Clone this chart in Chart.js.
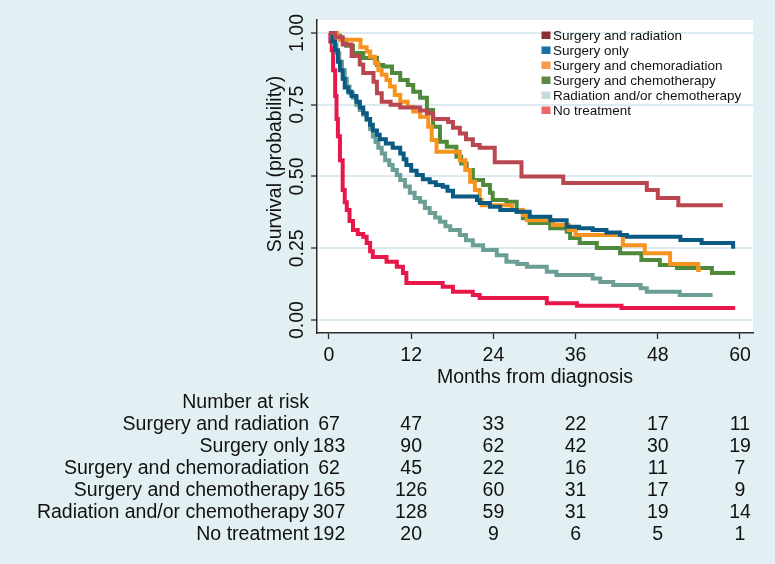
<!DOCTYPE html>
<html><head><meta charset="utf-8">
<script src="https://cdn.jsdelivr.net/npm/chart.js@4.4.1/dist/chart.umd.min.js"></script>
<style>html,body{margin:0;padding:0;background:#e3f0f3;}canvas{display:block;}</style>
</head><body>
<canvas id="c" width="775" height="564"></canvas>
<script>
const groupLabels = ['Surgery and radiation','Surgery only','Surgery and chemoradiation','Surgery and chemotherapy','Radiation and/or chemotherapy','No treatment'];
const lineColors = ['#b9474f','#0b5a84','#f7941e','#4f8a3c','#6b9f96','#e8174a'];
const legendColors = ['#8c2d33','#1a70a5','#f89a4a','#5a8a44','#c8dce0','#f06565'];

// [months, survival probability]
const surgeryRadiation = [[0,1],[0.9,0.985],[2,0.96],[3.3,0.92],[4.5,0.89],[5,0.86],[6.5,0.83],[7,0.79],[7.7,0.76],[9,0.75],[10.4,0.74],[13.3,0.73],[14.3,0.72],[15.2,0.70],[17.4,0.69],[18.1,0.67],[19.1,0.65],[20,0.63],[21,0.61],[22,0.60],[24.2,0.55],[28.1,0.50],[34.2,0.477],[46.4,0.453],[48,0.425],[51,0.40],[57.5,0.40]];
const surgeryOnly = [[0,1],[0.5,0.97],[0.9,0.94],[1.3,0.90],[1.6,0.87],[2.0,0.84],[2.3,0.81],[2.8,0.795],[3.3,0.78],[4.0,0.76],[4.5,0.74],[5.0,0.72],[5.5,0.70],[6.0,0.68],[6.4,0.66],[7.0,0.645],[7.4,0.63],[8.3,0.615],[9.3,0.60],[10.4,0.58],[10.9,0.56],[11.3,0.54],[12.0,0.52],[12.8,0.505],[13.7,0.49],[14.7,0.48],[15.6,0.47],[16.6,0.464],[17.3,0.45],[18.1,0.43],[21.6,0.418],[22,0.408],[23.5,0.395],[25,0.383],[27.4,0.377],[29.3,0.36],[32.3,0.348],[34.7,0.325],[36.5,0.32],[38.5,0.314],[40.5,0.305],[42.5,0.296],[43.5,0.29],[51.3,0.279],[54.4,0.268],[59,0.255],[59.3,0.255]];
const surgeryChemoradiation = [[0,1],[1.2,0.985],[1.6,0.976],[4.6,0.95],[5.5,0.935],[6,0.917],[6.7,0.895],[7.2,0.87],[7.7,0.854],[8.4,0.836],[8.9,0.813],[9.6,0.784],[10.4,0.76],[11.5,0.742],[12.3,0.726],[13.3,0.708],[14.5,0.673],[15,0.627],[15.7,0.586],[19.1,0.557],[19.9,0.523],[20.6,0.482],[21.3,0.453],[22,0.418],[22.3,0.40],[26.7,0.383],[28.3,0.366],[28.9,0.348],[32.7,0.331],[35,0.314],[36,0.296],[42.9,0.261],[46.1,0.233],[49.8,0.195],[53.9,0.174],[54.3,0.174]];
const surgeryChemotherapy = [[0,1],[0.8,0.99],[1.6,0.976],[2.5,0.955],[3.5,0.93],[5,0.913],[7,0.888],[7.9,0.883],[9.2,0.86],[10.4,0.836],[11.5,0.819],[12.3,0.795],[13.3,0.774],[14.3,0.732],[15.2,0.673],[16.2,0.621],[17.2,0.604],[18.6,0.569],[19.3,0.545],[20.1,0.523],[21,0.488],[22.5,0.47],[23.5,0.443],[23.9,0.418],[25.9,0.412],[27.4,0.377],[28.3,0.355],[29.3,0.338],[32.3,0.32],[34.7,0.308],[35.2,0.286],[36.6,0.268],[39.1,0.251],[42.5,0.233],[45.6,0.209],[48.3,0.192],[50.8,0.181],[55.9,0.164],[59.3,0.164]];
const radiationChemotherapy = [[0,1],[0.4,0.987],[0.7,0.96],[1.1,0.93],[1.5,0.90],[1.9,0.87],[2.3,0.84],[2.6,0.813],[3.0,0.79],[3.5,0.774],[4.0,0.75],[4.5,0.732],[5.0,0.715],[5.5,0.697],[6.0,0.665],[6.4,0.639],[6.8,0.62],[7.2,0.60],[7.7,0.58],[8.2,0.557],[8.8,0.54],[9.3,0.523],[9.9,0.505],[10.4,0.488],[11.1,0.465],[11.8,0.443],[12.5,0.425],[13.3,0.412],[14,0.39],[14.7,0.373],[15.5,0.357],[16.2,0.342],[17,0.327],[17.7,0.314],[19.1,0.296],[20,0.278],[21,0.261],[22.5,0.244],[24.5,0.226],[25.9,0.203],[27.5,0.195],[28.9,0.186],[31.8,0.168],[33.2,0.157],[38.5,0.145],[39.6,0.133],[41.5,0.122],[45.5,0.111],[46.4,0.099],[51.2,0.087],[56,0.087]];
const noTreatment = [[0,1],[0.2,0.97],[0.4,0.94],[0.6,0.87],[0.9,0.78],[1.1,0.70],[1.3,0.64],[1.6,0.557],[2.0,0.453],[2.3,0.41],[2.6,0.383],[3.0,0.345],[3.5,0.314],[4.2,0.30],[5,0.29],[5.5,0.268],[6.0,0.24],[6.4,0.22],[8.4,0.203],[9.9,0.186],[10.8,0.164],[11.3,0.129],[16.6,0.116],[18.1,0.099],[21,0.087],[22,0.077],[31.8,0.059],[36.2,0.05],[42.7,0.042],[59.3,0.042]];

const riskTimes = [0,12,24,36,48,60];
const xTickLabels = ['0','12','24','36','48','60'];
const yTickValues = [0,0.25,0.5,0.75,1];
const yTickLabels = ['0.00','0.25','0.50','0.75','1.00'];
const riskSurgeryRadiation = [67,47,33,22,17,11];
const riskSurgeryOnly = [183,90,62,42,30,19];
const riskSurgeryChemoradiation = [62,45,22,16,11,7];
const riskSurgeryChemotherapy = [165,126,60,31,17,9];
const riskRadiationChemotherapy = [307,128,59,31,19,14];
const riskNoTreatment = [192,20,9,6,5,1];

const seriesList = [surgeryRadiation,surgeryOnly,surgeryChemoradiation,surgeryChemotherapy,radiationChemotherapy,noTreatment];
const riskRows = [riskSurgeryRadiation,riskSurgeryOnly,riskSurgeryChemoradiation,riskSurgeryChemotherapy,riskRadiationChemotherapy,riskNoTreatment];

const FONT = '"Liberation Sans", Arial, Helvetica, sans-serif';
const TXT = '#111111';
const AX = '#2b2b2b';

const custom = {
  id: 'custom',
  beforeDraw(chart) {
    const {ctx, chartArea: a} = chart;
    ctx.save();
    ctx.fillStyle = '#e3f0f3';
    ctx.fillRect(0, 0, chart.width, chart.height);
    ctx.fillStyle = '#ffffff';
    ctx.fillRect(a.left, a.top, a.right - a.left, a.bottom - a.top);
    ctx.restore();
  },
  afterDraw(chart) {
    const {ctx} = chart;
    const xs = chart.scales.x, ys = chart.scales.y;
    ctx.save();
    ctx.fillStyle = TXT;
    ctx.font = '19.5px ' + FONT;
    ctx.textAlign = 'center';
    ctx.textBaseline = 'alphabetic';
    yTickValues.forEach((v, i) => {
      ctx.save();
      ctx.translate(303, ys.getPixelForValue(v));
      ctx.rotate(-Math.PI / 2);
      ctx.fillText(yTickLabels[i], 0, 0);
      ctx.restore();
    });
    ctx.save();
    ctx.translate(281, 164);
    ctx.rotate(-Math.PI / 2);
    ctx.fillText('Survival (probability)', 0, 0);
    ctx.restore();
    ctx.font = '13.5px ' + FONT;
    ctx.textAlign = 'left';
    groupLabels.forEach((lab, i) => {
      const by = 40 + i * 15;
      ctx.fillStyle = legendColors[i];
      ctx.fillRect(541.5, by - 8.5, 9, 7.5);
      ctx.fillStyle = TXT;
      ctx.fillText(lab, 553, by);
    });
    ctx.font = '19.5px ' + FONT;
    ctx.textAlign = 'right';
    ctx.fillText('Number at risk', 309, 407.5);
    groupLabels.forEach((lab, i) => {
      const by = 429.5 + i * 22;
      ctx.textAlign = 'right';
      ctx.fillText(lab, 309, by);
      ctx.textAlign = 'center';
      riskRows[i].forEach((n, j) => {
        ctx.fillText(String(n), xs.getPixelForValue(riskTimes[j]), by);
      });
    });
    ctx.restore();
  }
};

new Chart(document.getElementById('c'), {
  type: 'line',
  data: {
    datasets: seriesList.map((s, i) => ({
      label: groupLabels[i],
      data: s.map(p => ({x: p[0], y: p[1]})),
      borderColor: lineColors[i],
      backgroundColor: lineColors[i],
      borderWidth: 4,
      stepped: true,
      pointRadius: 0,
      fill: false,
      borderCapStyle: 'butt',
      borderJoinStyle: 'miter'
    }))
  },
  options: {
    responsive: false,
    animation: false,
    devicePixelRatio: 1,
    layout: {padding: {left: 0, top: 20, right: 22, bottom: 175}},
    plugins: {legend: {display: false}, tooltip: {enabled: false}},
    scales: {
      x: {
        type: 'linear', min: -1.75, max: 61.9,
        afterBuildTicks: s => { s.ticks = riskTimes.map(v => ({value: v})); },
        afterFit: s => { s.height = 56; },
        ticks: {
          autoSkip: false, maxRotation: 0, padding: 5,
          color: TXT, font: {family: FONT, size: 19.5},
          callback: v => { const k = riskTimes.indexOf(v); return k >= 0 ? xTickLabels[k] : ''; }
        },
        grid: {display: true, drawOnChartArea: false, drawTicks: true, tickLength: 6, tickColor: AX, tickWidth: 1.3, color: AX},
        border: {display: true, color: AX, width: 1.5},
        title: {display: true, text: 'Months from diagnosis', color: TXT, font: {family: FONT, size: 19.5}, padding: 0}
      },
      y: {
        type: 'linear', min: -0.045, max: 1.045,
        afterBuildTicks: s => { s.ticks = yTickValues.map(v => ({value: v})); },
        afterFit: s => { s.width = 317; },
        ticks: {display: true, color: 'rgba(0,0,0,0)', font: {family: FONT, size: 19.5}},
        grid: {display: true, drawOnChartArea: true, drawTicks: true, tickLength: 6, color: '#dcebef', lineWidth: 2, tickColor: AX, tickWidth: 1.3},
        border: {display: true, color: AX, width: 1.5}
      }
    }
  },
  plugins: [custom]
});
</script>
</body></html>
